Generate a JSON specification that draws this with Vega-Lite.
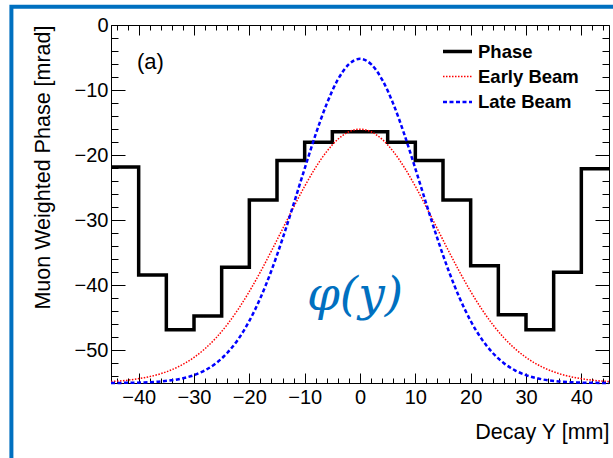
{
  "$schema": "https://vega.github.io/schema/vega-lite/v6.json",
  "width": 498,
  "height": 358,
  "autosize": "none",
  "padding": {"left": 111, "top": 25, "right": 4, "bottom": 75},
  "background": "white",
  "datasets": {
    "phase": [
      {"series": "Phase", "x": -45, "y": -21.8},
      {"series": "Phase", "x": -40, "y": -38.4},
      {"series": "Phase", "x": -35, "y": -46.8},
      {"series": "Phase", "x": -30, "y": -44.7},
      {"series": "Phase", "x": -25, "y": -37.2},
      {"series": "Phase", "x": -20, "y": -26.9},
      {"series": "Phase", "x": -15, "y": -20.8},
      {"series": "Phase", "x": -10, "y": -18.0},
      {"series": "Phase", "x": -5, "y": -16.4},
      {"series": "Phase", "x": 0, "y": -16.4},
      {"series": "Phase", "x": 5, "y": -18.0},
      {"series": "Phase", "x": 10, "y": -20.8},
      {"series": "Phase", "x": 15, "y": -26.9},
      {"series": "Phase", "x": 20, "y": -37.0},
      {"series": "Phase", "x": 25, "y": -44.5},
      {"series": "Phase", "x": 30, "y": -46.8},
      {"series": "Phase", "x": 35, "y": -38.0},
      {"series": "Phase", "x": 40, "y": -22.1},
      {"series": "Phase", "x": 45, "y": -22.1}
    ],
    "early": [
      {"series": "Early Beam", "x": -45, "y": -54.78},
      {"series": "Early Beam", "x": -42, "y": -54.57},
      {"series": "Early Beam", "x": -39, "y": -54.19},
      {"series": "Early Beam", "x": -36, "y": -53.57},
      {"series": "Early Beam", "x": -33, "y": -52.57},
      {"series": "Early Beam", "x": -30, "y": -51.07},
      {"series": "Early Beam", "x": -28, "y": -49.72},
      {"series": "Early Beam", "x": -26, "y": -48.05},
      {"series": "Early Beam", "x": -24, "y": -46.03},
      {"series": "Early Beam", "x": -22, "y": -43.65},
      {"series": "Early Beam", "x": -20, "y": -40.94},
      {"series": "Early Beam", "x": -18, "y": -37.93},
      {"series": "Early Beam", "x": -16, "y": -34.70},
      {"series": "Early Beam", "x": -14, "y": -31.35},
      {"series": "Early Beam", "x": -12, "y": -27.99},
      {"series": "Early Beam", "x": -10, "y": -24.78},
      {"series": "Early Beam", "x": -8, "y": -21.87},
      {"series": "Early Beam", "x": -6, "y": -19.42},
      {"series": "Early Beam", "x": -4, "y": -17.56},
      {"series": "Early Beam", "x": -2, "y": -16.40},
      {"series": "Early Beam", "x": 0, "y": -16.00},
      {"series": "Early Beam", "x": 2, "y": -16.40},
      {"series": "Early Beam", "x": 4, "y": -17.56},
      {"series": "Early Beam", "x": 6, "y": -19.42},
      {"series": "Early Beam", "x": 8, "y": -21.87},
      {"series": "Early Beam", "x": 10, "y": -24.78},
      {"series": "Early Beam", "x": 12, "y": -27.99},
      {"series": "Early Beam", "x": 14, "y": -31.35},
      {"series": "Early Beam", "x": 16, "y": -34.70},
      {"series": "Early Beam", "x": 18, "y": -37.93},
      {"series": "Early Beam", "x": 20, "y": -40.94},
      {"series": "Early Beam", "x": 22, "y": -43.65},
      {"series": "Early Beam", "x": 24, "y": -46.03},
      {"series": "Early Beam", "x": 26, "y": -48.05},
      {"series": "Early Beam", "x": 28, "y": -49.72},
      {"series": "Early Beam", "x": 30, "y": -51.07},
      {"series": "Early Beam", "x": 33, "y": -52.57},
      {"series": "Early Beam", "x": 36, "y": -53.57},
      {"series": "Early Beam", "x": 39, "y": -54.19},
      {"series": "Early Beam", "x": 42, "y": -54.57},
      {"series": "Early Beam", "x": 45, "y": -54.78}
    ],
    "late": [
      {"series": "Late Beam", "x": -45, "y": -54.99},
      {"series": "Late Beam", "x": -42, "y": -54.97},
      {"series": "Late Beam", "x": -39, "y": -54.91},
      {"series": "Late Beam", "x": -36, "y": -54.76},
      {"series": "Late Beam", "x": -33, "y": -54.45},
      {"series": "Late Beam", "x": -30, "y": -53.79},
      {"series": "Late Beam", "x": -28, "y": -53.05},
      {"series": "Late Beam", "x": -26, "y": -51.95},
      {"series": "Late Beam", "x": -24, "y": -50.39},
      {"series": "Late Beam", "x": -22, "y": -48.26},
      {"series": "Late Beam", "x": -20, "y": -45.46},
      {"series": "Late Beam", "x": -18, "y": -41.94},
      {"series": "Late Beam", "x": -16, "y": -37.71},
      {"series": "Late Beam", "x": -14, "y": -32.84},
      {"series": "Late Beam", "x": -12, "y": -27.53},
      {"series": "Late Beam", "x": -10, "y": -22.06},
      {"series": "Late Beam", "x": -8, "y": -16.77},
      {"series": "Late Beam", "x": -6, "y": -12.08},
      {"series": "Late Beam", "x": -4, "y": -8.39},
      {"series": "Late Beam", "x": -2, "y": -6.02},
      {"series": "Late Beam", "x": 0, "y": -5.20},
      {"series": "Late Beam", "x": 2, "y": -6.02},
      {"series": "Late Beam", "x": 4, "y": -8.39},
      {"series": "Late Beam", "x": 6, "y": -12.08},
      {"series": "Late Beam", "x": 8, "y": -16.77},
      {"series": "Late Beam", "x": 10, "y": -22.06},
      {"series": "Late Beam", "x": 12, "y": -27.53},
      {"series": "Late Beam", "x": 14, "y": -32.84},
      {"series": "Late Beam", "x": 16, "y": -37.71},
      {"series": "Late Beam", "x": 18, "y": -41.94},
      {"series": "Late Beam", "x": 20, "y": -45.46},
      {"series": "Late Beam", "x": 22, "y": -48.26},
      {"series": "Late Beam", "x": 24, "y": -50.39},
      {"series": "Late Beam", "x": 26, "y": -51.95},
      {"series": "Late Beam", "x": 28, "y": -53.05},
      {"series": "Late Beam", "x": 30, "y": -53.79},
      {"series": "Late Beam", "x": 33, "y": -54.45},
      {"series": "Late Beam", "x": 36, "y": -54.76},
      {"series": "Late Beam", "x": 39, "y": -54.91},
      {"series": "Late Beam", "x": 42, "y": -54.97},
      {"series": "Late Beam", "x": 45, "y": -54.99}
    ]
  },
  "config": {
    "view": {"stroke": "black", "strokeWidth": 1},
    "axis": {
      "grid": false,
      "labelFont": "Liberation Sans",
      "labelFontSize": 20,
      "labelColor": "black",
      "titleFont": "Liberation Sans",
      "titleFontSize": 21.5,
      "titleFontWeight": "normal",
      "titleColor": "black",
      "tickColor": "black",
      "tickWidth": 1,
      "domainColor": "black",
      "domainWidth": 1,
      "labelFlush": false
    }
  },
  "resolve": {"axis": {"x": "independent", "y": "independent"}},
  "layer": [
    {
      "data": {"values": [{}]},
      "mark": {"type": "rect", "filled": false, "stroke": "#0070C0", "strokeWidth": 4},
      "encoding": {
        "x": {"datum": -63.0, "type": "quantitative", "scale": {"domain": [-45, 45], "nice": false}, "axis": null},
        "x2": {"datum": 61.5},
        "y": {"datum": 2.81, "type": "quantitative", "scale": {"domain": [-55, 0], "nice": false}, "axis": null},
        "y2": {"datum": -76}
      }
    },
    {
      "data": {"name": "phase"},
      "mark": {"type": "line", "interpolate": "step-after"},
      "encoding": {
        "x": {"field": "x", "type": "quantitative", "scale": {"domain": [-45, 45], "nice": false},
          "axis": {"orient": "bottom", "values": [-40, -30, -20, -10, 0, 10, 20, 30, 40], "tickSize": -10, "labelPadding": 14, "title": "Decay Y [mm]", "titleAnchor": "end", "titlePadding": 14}},
        "y": {"field": "y", "type": "quantitative", "scale": {"domain": [-55, 0], "nice": false},
          "axis": {"orient": "left", "values": [-50, -40, -30, -20, -10, 0], "tickSize": -14, "labelPadding": 17, "title": "Muon Weighted Phase [mrad]", "titleAnchor": "end", "titlePadding": 20}},
        "color": {"field": "series", "type": "nominal", "scale": {"domain": ["Phase", "Early Beam", "Late Beam"], "range": ["#000000", "#ff0000", "#0000ff"]},
          "legend": {"title": null, "orient": "none", "legendX": 330, "legendY": 10, "symbolType": "stroke", "symbolSize": 841, "labelFont": "Liberation Sans", "labelFontSize": 18.5, "labelFontWeight": "bold", "labelColor": "black", "rowPadding": -5, "labelOffset": 4, "padding": 0}},
        "strokeDash": {"field": "series", "type": "nominal", "scale": {"domain": ["Phase", "Early Beam", "Late Beam"], "range": [[1, 0], [1.5, 1.5], [4, 2.5]]},
          "legend": {"title": null, "orient": "none", "legendX": 330, "legendY": 10, "symbolType": "stroke", "symbolSize": 841, "labelFont": "Liberation Sans", "labelFontSize": 18.5, "labelFontWeight": "bold", "labelColor": "black", "rowPadding": -5, "labelOffset": 4, "padding": 0}},
        "strokeWidth": {"field": "series", "type": "nominal", "scale": {"type": "ordinal", "domain": ["Phase", "Early Beam", "Late Beam"], "range": [3.5, 1.5, 2.5]},
          "legend": {"title": null, "orient": "none", "legendX": 330, "legendY": 10, "symbolType": "stroke", "symbolSize": 841, "labelFont": "Liberation Sans", "labelFontSize": 18.5, "labelFontWeight": "bold", "labelColor": "black", "rowPadding": -5, "labelOffset": 4, "padding": 0}}
      }
    },
    {
      "data": {"name": "early"},
      "mark": {"type": "line", "interpolate": "monotone"},
      "encoding": {
        "x": {"field": "x", "type": "quantitative", "scale": {"domain": [-45, 45], "nice": false},
          "axis": {"orient": "bottom", "values": [-44, -42, -40, -38, -36, -34, -32, -30, -28, -26, -24, -22, -20, -18, -16, -14, -12, -10, -8, -6, -4, -2, 0, 2, 4, 6, 8, 10, 12, 14, 16, 18, 20, 22, 24, 26, 28, 30, 32, 34, 36, 38, 40, 42, 44], "tickSize": -5, "labels": false, "domain": false, "title": null}},
        "y": {"field": "y", "type": "quantitative", "scale": {"domain": [-55, 0], "nice": false},
          "axis": {"orient": "left", "values": [-54, -52, -50, -48, -46, -44, -42, -40, -38, -36, -34, -32, -30, -28, -26, -24, -22, -20, -18, -16, -14, -12, -10, -8, -6, -4, -2], "tickSize": -7, "labels": false, "domain": false, "title": null}},
        "color": {"field": "series", "type": "nominal", "scale": {"domain": ["Phase", "Early Beam", "Late Beam"], "range": ["#000000", "#ff0000", "#0000ff"]},
          "legend": {"title": null, "orient": "none", "legendX": 330, "legendY": 10, "symbolType": "stroke", "symbolSize": 841, "labelFont": "Liberation Sans", "labelFontSize": 18.5, "labelFontWeight": "bold", "labelColor": "black", "rowPadding": -5, "labelOffset": 4, "padding": 0}},
        "strokeDash": {"field": "series", "type": "nominal", "scale": {"domain": ["Phase", "Early Beam", "Late Beam"], "range": [[1, 0], [1.5, 1.5], [4, 2.5]]},
          "legend": {"title": null, "orient": "none", "legendX": 330, "legendY": 10, "symbolType": "stroke", "symbolSize": 841, "labelFont": "Liberation Sans", "labelFontSize": 18.5, "labelFontWeight": "bold", "labelColor": "black", "rowPadding": -5, "labelOffset": 4, "padding": 0}},
        "strokeWidth": {"field": "series", "type": "nominal", "scale": {"type": "ordinal", "domain": ["Phase", "Early Beam", "Late Beam"], "range": [3.5, 1.5, 2.5]},
          "legend": {"title": null, "orient": "none", "legendX": 330, "legendY": 10, "symbolType": "stroke", "symbolSize": 841, "labelFont": "Liberation Sans", "labelFontSize": 18.5, "labelFontWeight": "bold", "labelColor": "black", "rowPadding": -5, "labelOffset": 4, "padding": 0}}
      }
    },
    {
      "data": {"name": "late"},
      "mark": {"type": "line", "interpolate": "monotone"},
      "encoding": {
        "x": {"field": "x", "type": "quantitative", "scale": {"domain": [-45, 45], "nice": false},
          "axis": {"orient": "top", "values": [-40, -30, -20, -10, 0, 10, 20, 30, 40], "tickSize": -10, "labels": false, "domain": false, "title": null}},
        "y": {"field": "y", "type": "quantitative", "scale": {"domain": [-55, 0], "nice": false},
          "axis": {"orient": "right", "values": [-50, -40, -30, -20, -10, 0], "tickSize": -14, "labels": false, "domain": false, "title": null}},
        "color": {"field": "series", "type": "nominal", "scale": {"domain": ["Phase", "Early Beam", "Late Beam"], "range": ["#000000", "#ff0000", "#0000ff"]},
          "legend": {"title": null, "orient": "none", "legendX": 330, "legendY": 10, "symbolType": "stroke", "symbolSize": 841, "labelFont": "Liberation Sans", "labelFontSize": 18.5, "labelFontWeight": "bold", "labelColor": "black", "rowPadding": -5, "labelOffset": 4, "padding": 0}},
        "strokeDash": {"field": "series", "type": "nominal", "scale": {"domain": ["Phase", "Early Beam", "Late Beam"], "range": [[1, 0], [1.5, 1.5], [4, 2.5]]},
          "legend": {"title": null, "orient": "none", "legendX": 330, "legendY": 10, "symbolType": "stroke", "symbolSize": 841, "labelFont": "Liberation Sans", "labelFontSize": 18.5, "labelFontWeight": "bold", "labelColor": "black", "rowPadding": -5, "labelOffset": 4, "padding": 0}},
        "strokeWidth": {"field": "series", "type": "nominal", "scale": {"type": "ordinal", "domain": ["Phase", "Early Beam", "Late Beam"], "range": [3.5, 1.5, 2.5]},
          "legend": {"title": null, "orient": "none", "legendX": 330, "legendY": 10, "symbolType": "stroke", "symbolSize": 841, "labelFont": "Liberation Sans", "labelFontSize": 18.5, "labelFontWeight": "bold", "labelColor": "black", "rowPadding": -5, "labelOffset": 4, "padding": 0}}
      }
    },
    {
      "data": {"values": [{}]},
      "mark": {"type": "text", "align": "left", "baseline": "middle", "font": "Liberation Sans", "fontSize": 22, "color": "black"},
      "encoding": {
        "x": {"datum": -40.3, "type": "quantitative", "scale": {"domain": [-45, 45], "nice": false},
          "axis": {"orient": "top", "values": [-44, -42, -40, -38, -36, -34, -32, -30, -28, -26, -24, -22, -20, -18, -16, -14, -12, -10, -8, -6, -4, -2, 0, 2, 4, 6, 8, 10, 12, 14, 16, 18, 20, 22, 24, 26, 28, 30, 32, 34, 36, 38, 40, 42, 44], "tickSize": -5, "labels": false, "domain": false, "title": null}},
        "y": {"datum": -5.7, "type": "quantitative", "scale": {"domain": [-55, 0], "nice": false},
          "axis": {"orient": "right", "values": [-54, -52, -50, -48, -46, -44, -42, -40, -38, -36, -34, -32, -30, -28, -26, -24, -22, -20, -18, -16, -14, -12, -10, -8, -6, -4, -2], "tickSize": -7, "labels": false, "domain": false, "title": null}},
        "text": {"value": "(a)"}
      }
    },
    {
      "data": {"values": [{}]},
      "mark": {"type": "text", "align": "center", "baseline": "middle", "font": "DejaVu Serif", "fontStyle": "italic", "fontSize": 47, "color": "#0070C0"},
      "encoding": {
        "x": {"datum": -0.9, "type": "quantitative", "scale": {"domain": [-45, 45], "nice": false}, "axis": null},
        "y": {"datum": -41.6, "type": "quantitative", "scale": {"domain": [-55, 0], "nice": false}, "axis": null},
        "text": {"value": "φ(y)"}
      }
    }
  ]
}
